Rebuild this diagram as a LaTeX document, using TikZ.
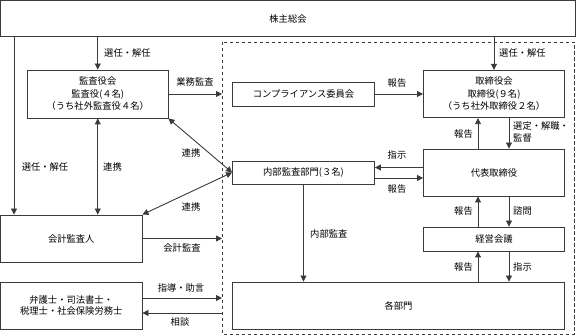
\documentclass[tikz,border=0pt]{standalone}
\usepackage{fontspec}
\newfontfamily\jp{Noto Sans CJK JP}
\usetikzlibrary{arrows.meta}
\definecolor{ln}{HTML}{3A3A3A}
\begin{document}
\begin{tikzpicture}[x=1pt,y=-1pt,
  box/.style={draw=ln,line width=0.9pt,fill=white,inner sep=0pt,align=center,
    font=\jp\fontsize{9.3}{12.5}\selectfont},
  lbl/.style={inner sep=0pt,align=left,font=\jp\fontsize{9.3}{12}\selectfont},
  arr/.style={draw=ln,line width=0.9pt,-{Triangle[length=6pt,width=6pt]}},
  darr/.style={draw=ln,line width=0.9pt,{Triangle[length=6pt,width=6pt]}-{Triangle[length=6pt,width=6pt]}},
  dashbox/.style={draw=ln,line width=0.8pt,dash pattern=on 3.5pt off 2.5pt}
]
\useasboundingbox (0,0) rectangle (576,336);
% dashed frame
\draw[dashbox] (222,42) rectangle (574,334.5);
% boxes
\node[box,minimum width=575pt,minimum height=36pt] (top) at (288,18.5) {株主総会};
\node[box,minimum width=140.5pt,minimum height=48pt] (kansa) at (97.75,94) {監査役会\\監査役(４名)\\（うち社外監査役４名）};
\node[box,minimum width=142pt,minimum height=24pt] (comp) at (303.5,94) {コンプライアンス委員会};
\node[box,minimum width=141pt,minimum height=47.5pt] (tori) at (494,94) {取締役会\\取締役(９名)\\（うち社外取締役２名）};
\node[box,minimum width=141pt,minimum height=47pt] (dai) at (494,172.5) {代表取締役};
\node[box,minimum width=142pt,minimum height=23pt] (naibu) at (303.5,172.5) {内部監査部門(３名)};
\node[box,minimum width=141pt,minimum height=24pt] (keiei) at (494,239) {経営会議};
\node[box,minimum width=332pt,minimum height=47pt] (kakubu) at (398.5,305.5) {各部門};
\node[box,minimum width=141.5pt,minimum height=47pt] (kaikei) at (71.25,238.5) {会計監査人};
\node[box,minimum width=141.5pt,minimum height=47pt,font=\jp\fontsize{9.3}{11.5}\selectfont] (bengo) at (71.25,305.5) {弁護士・司法書士・\\税理士・社会保険労務士};
% helper coordinates
\coordinate (lx) at (14,0);
\coordinate (dl) at (222,0);
\coordinate (ux) at (478,0);
\coordinate (dx) at (509,0);
\coordinate (y1) at (0,167.5);
\coordinate (y2) at (0,178);
\coordinate (y3) at (0,298);
\coordinate (y4) at (0,313);
% connectors
\draw[arr] (top.south -| kansa.north) -- (kansa.north);
\draw[arr] (top.south -| tori.north) -- (tori.north);
\draw[arr] (top.south -| lx) -- (kaikei.north -| lx);
\draw[darr] (kansa.south) -- (kansa.south |- kaikei.north);
\draw[darr] (kansa.south east) -- (naibu.west);
\draw[darr] (kaikei.north east) -- (naibu.west);
\draw[arr] (kansa.east) -- (kansa.east -| dl);
\draw[arr] (comp.east) -- (tori.west);
\draw[arr] (dai.north -| ux) -- (tori.south -| ux);
\draw[arr] (tori.south -| dx) -- (dai.north -| dx);
\draw[arr] (dai.west |- y1) -- (naibu.east |- y1);
\draw[arr] (naibu.east |- y2) -- (dai.west |- y2);
\draw[arr] (keiei.north -| ux) -- (dai.south -| ux);
\draw[arr] (dai.south -| dx) -- (keiei.north -| dx);
\draw[arr] (kakubu.north -| ux) -- (keiei.south -| ux);
\draw[arr] (keiei.south -| dx) -- (kakubu.north -| dx);
\draw[arr] (naibu.south) -- (naibu.south |- kakubu.north);
\draw[arr] (kaikei.east) -- (kaikei.east -| dl);
\draw[arr] (bengo.east |- y3) -- (dl |- y3);
\draw[arr] (dl |- y4) -- (bengo.east |- y4);
% labels
\node[lbl,anchor=west] (l1) at (104,53) {選任・解任};
\node[lbl,anchor=west] (l2) at (499,53) {選任・解任};
\node[lbl] (l3) at (45,167) {選任・解任};
\node[lbl,anchor=west] (l4) at (103,167) {連携};
\node[lbl] (l5) at (191,153) {連携};
\node[lbl] (l6) at (191,207) {連携};
\node[lbl] (l7) at (195,82) {業務監査};
\node[lbl] (l8) at (397,83) {報告};
\node[lbl,anchor=east] (l9) at (473,134) {報告};
\node[lbl,anchor=west] (l10) at (513,132) {選定・解職・\\監督};
\node[lbl] (l11) at (397,155) {指示};
\node[lbl] (l12) at (397,189) {報告};
\node[lbl,anchor=east] (l13) at (473,211) {報告};
\node[lbl,anchor=west] (l14) at (513,211) {諮問};
\node[lbl,anchor=east] (l15) at (473,267) {報告};
\node[lbl,anchor=west] (l16) at (513,267) {指示};
\node[lbl,anchor=west] (l17) at (310,234) {内部監査};
\node[lbl] (l18) at (182,248) {会計監査};
\node[lbl] (l19) at (181,288) {指導・助言};
\node[lbl] (l20) at (180,322) {相談};
\end{tikzpicture}
\end{document}
